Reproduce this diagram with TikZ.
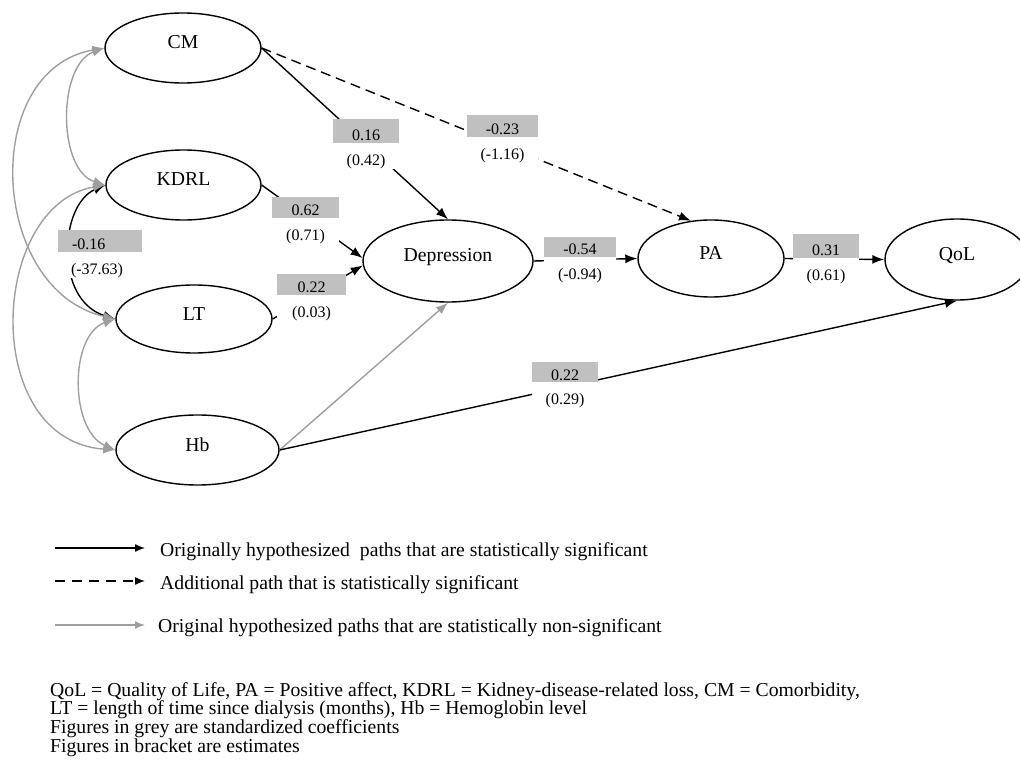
\documentclass[tikz,border=0pt]{standalone}
\usepackage{fontspec}
\setmainfont{Liberation Serif}
\usetikzlibrary{arrows.meta,shapes.geometric}
\definecolor{boxgray}{RGB}{192,192,192}
\definecolor{linegray}{RGB}{158,158,158}
\begin{document}
\begin{tikzpicture}[x=1pt,y=-1pt,
  font=\fontsize{19.7}{22}\selectfont,
  var/.style={ellipse, draw, line width=1.4pt, inner sep=0pt, text height=9pt, text depth=7pt,
    font=\fontsize{19.7}{20}\selectfont},
  sig/.style={line width=1.4pt, -{Latex[length=12pt,width=9pt]}},
  addl/.style={sig, dash pattern=on 10pt off 6pt},
  nonsig/.style={line width=1.4pt, color=linegray, -{Latex[length=12pt,width=9pt]}},
  cov/.style={line width=1.4pt, color=linegray, {Latex[length=12pt,width=9pt]}-{Latex[length=12pt,width=9pt]}},
  covsig/.style={line width=1.4pt, {Latex[length=12pt,width=9pt]}-{Latex[length=12pt,width=9pt]}},
  coef/.style={fill=boxgray, inner sep=0pt, text depth=2pt, font=\fontsize{16}{16}\selectfont},
  est/.style={fill=white, inner sep=0pt, anchor=north, text height=22pt, text depth=4pt,
    font=\fontsize{16}{16}\selectfont},
  legtext/.style={anchor=base west, inner sep=0pt},
  legarrow/.style={line width=1.4pt, -{Latex[length=10pt,width=8pt]}}
]
\useasboundingbox (0,0) rectangle (1020,767);

% variables
\node[var, minimum width=156pt, minimum height=70pt] (CM) at (183,48) {CM};
\node[var, minimum width=155pt, minimum height=70pt] (KDRL) at (183.5,185) {KDRL};
\node[var, minimum width=156pt, minimum height=68pt] (LT) at (194,319) {LT};
\node[var, minimum width=163pt, minimum height=70pt] (Hb) at (197.5,450) {Hb};
\node[var, minimum width=170pt, minimum height=82pt] (Dep) at (448,261) {Depression};
\node[var, minimum width=146pt, minimum height=77pt] (PA) at (711,258.5) {PA};
\node[var, minimum width=144pt, minimum height=81pt] (QoL) at (957,259.5) {QoL};

% covariances (left)
\draw[covsig] (KDRL.west) .. controls +(-46,20) and +(-61,-19) .. (LT.west);
\draw[cov] (CM.west) .. controls +(-47,17) and +(-48,-15) .. (KDRL.west);
\draw[cov] (CM.west) .. controls +(-125,22) and +(-126,-29) .. (LT.west);
\draw[cov] (KDRL.west) .. controls +(-116,20) and +(-136,-10) .. (Hb.west);
\draw[cov] (LT.west) .. controls +(-46,16) and +(-46,-20) .. (Hb.west);

% paths
\draw[sig] (CM.east) -- (Dep.north);
\draw[addl] (CM.east) -- (PA.118);
\draw[sig] (KDRL.east) -- (Dep.178);
\draw[sig] (LT.east) -- (Dep.183);
\draw[nonsig] (Hb.east) -- (Dep.south);
\draw[sig] (Hb.east) -- (QoL.south);
\draw[sig] (Dep.east) -- (PA.west);
\draw[sig] (PA.east) -- (QoL.west);

% coefficient labels
\node[coef, minimum width=66pt, text height=22pt] (b1) at (366,131) {0.16};
\node[est, minimum width=66pt] (e1) at (b1.south) {(0.42)};
\node[coef, minimum width=71pt, text height=20pt] (b2) at (502.5,126) {-0.23};
\node[est, minimum width=71pt] (e2) at (b2.south) {(-1.16)};
\node[coef, minimum width=67pt, text height=19pt] (b3) at (305.5,207.5) {0.62};
\node[est, minimum width=67pt] (e3) at (b3.south) {(0.71)};
\node[coef, minimum width=69pt, text height=19pt] (b4) at (311.5,284.5) {0.22};
\node[est, minimum width=69pt] (e4) at (b4.south) {(0.03)};
\node[coef, text width=84pt, align=left, text height=20pt] (b5) at (100,241) {\hspace*{14pt}-0.16};
\node[est, minimum width=84pt] (e5) at (b5.south) {\hspace*{-6pt}(-37.63)};
\node[coef, minimum width=72pt, text height=18pt] (b6) at (580,247) {-0.54};
\node[est, minimum width=72pt] (e6) at (b6.south) {(-0.94)};
\node[coef, minimum width=66pt, text height=22pt] (b7) at (826,246) {0.31};
\node[est, minimum width=66pt] (e7) at (b7.south) {(0.61)};
\node[coef, minimum width=66pt, text height=18pt] (b8) at (565,372) {0.22};
\node[est, minimum width=66pt] (e8) at (b8.south) {(0.29)};

% legend
\coordinate (L1s) at (55,548); \coordinate (L1e) at (145,548);
\coordinate (L2s) at (55,581); \coordinate (L2e) at (145,581);
\coordinate (L3s) at (55,625); \coordinate (L3e) at (145,625);
\draw[legarrow] (L1s) -- (L1e);
\draw[legarrow, dash pattern=on 10pt off 7pt] (L2s) -- (L2e);
\draw[legarrow, color=linegray] (L3s) -- (L3e);
\node[legtext] (T1) at (160,556) {Originally hypothesized\ \ paths that are statistically significant};
\node[legtext] (T2) at (160,589) {Additional path that is statistically significant};
\node[legtext] (T3) at (158,632) {Original hypothesized paths that are statistically non-significant};

% notes
\node[legtext] (N1) at (50,696) {QoL = Quality of Life, PA = Positive affect, KDRL = Kidney-disease-related loss, CM = Comorbidity,};
\node[legtext] (N2) at (50,714.7) {LT = length of time since dialysis (months), Hb = Hemoglobin level};
\node[legtext] (N3) at (50,733.4) {Figures in grey are standardized coefficients};
\node[legtext] (N4) at (50,752) {Figures in bracket are estimates};
\end{tikzpicture}
\end{document}
